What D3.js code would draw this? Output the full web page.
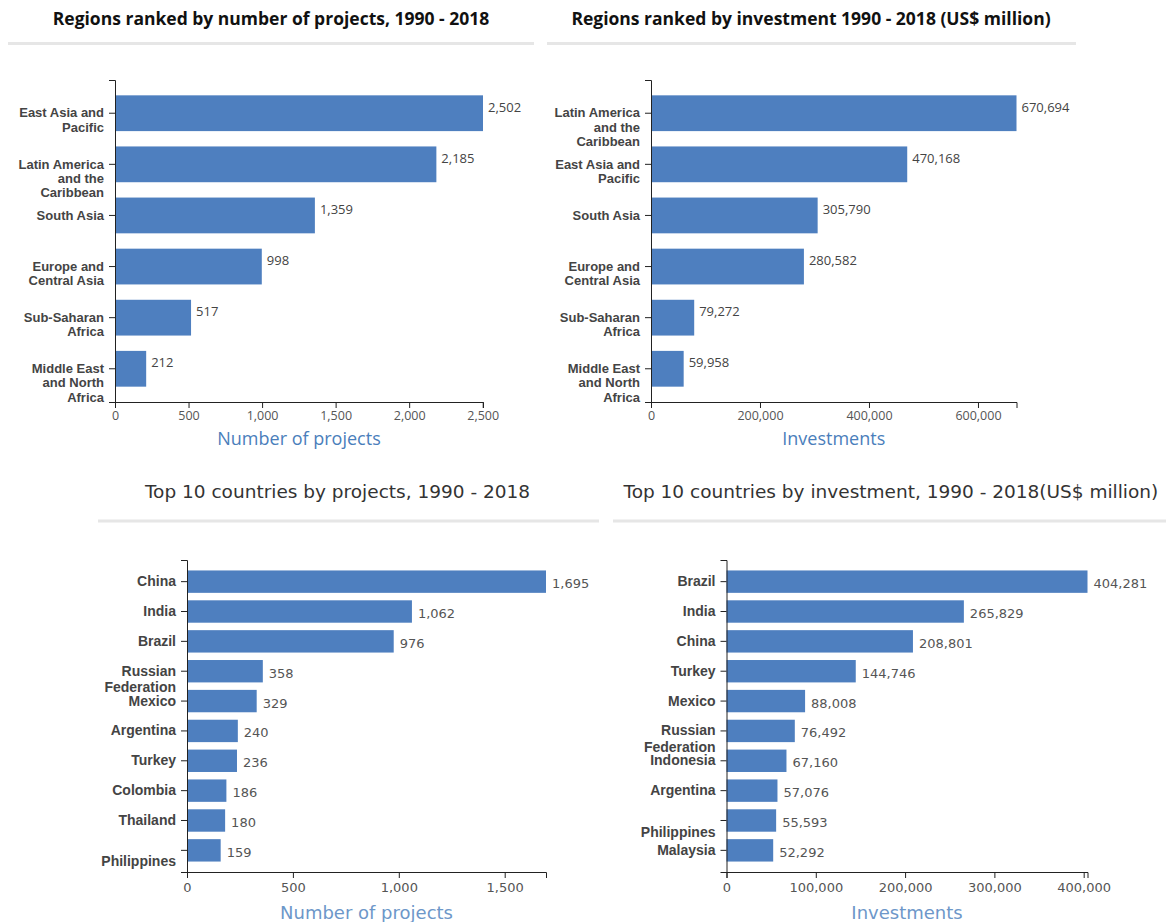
<!DOCTYPE html>
<html>
<head>
<meta charset="utf-8">
<script src="https://cdn.jsdelivr.net/npm/d3@7"></script>
<style>
  body { margin: 0; background: #fff; }
  svg { display: block; }
</style>
</head>
<body>
<svg width="1166" height="922"></svg>
<script>
// data
var regionNamesByProjects = ["East Asia and Pacific", "Latin America and the Caribbean", "South Asia",
    "Europe and Central Asia", "Sub-Saharan Africa", "Middle East and North Africa"];
var regionProjects = [2502, 2185, 1359, 998, 517, 212];

var regionNamesByInvestment = ["Latin America and the Caribbean", "East Asia and Pacific", "South Asia",
    "Europe and Central Asia", "Sub-Saharan Africa", "Middle East and North Africa"];
var regionInvestment = [670694, 470168, 305790, 280582, 79272, 59958];

var countryNamesByProjects = ["China", "India", "Brazil", "Russian Federation", "Mexico",
    "Argentina", "Turkey", "Colombia", "Thailand", "Philippines"];
var countryProjects = [1695, 1062, 976, 358, 329, 240, 236, 186, 180, 159];

var countryNamesByInvestment = ["Brazil", "India", "China", "Turkey", "Mexico",
    "Russian Federation", "Indonesia", "Argentina", "Philippines", "Malaysia"];
var countryInvestment = [404281, 265829, 208801, 144746, 88008, 76492, 67160, 57076, 55593, 52292];

var svg = d3.select("svg");
var barColor = "#4e7fbf";
var fmt = d3.format(",");

// wraps tick labels on width, "\n" forces an (empty) line
function wrap(texts, width, lineHeight) {
    texts.each(function() {
        var text = d3.select(this),
            label = text.text(),
            x = text.attr("x") || 0,
            first = true;
        text.text(null);
        label.split("\n").forEach(function(par) {
            var words = par.split(/\s+/).filter(function(w) { return w.length; }),
                line = [],
                tspan = text.append("tspan").attr("x", x).attr("dy", (first ? 0.32 : lineHeight) + "em");
            first = false;
            words.forEach(function(word) {
                line.push(word);
                tspan.text(line.join(" "));
                if (tspan.node().getComputedTextLength() > width && line.length > 1) {
                    line.pop();
                    tspan.text(line.join(" "));
                    line = [word];
                    tspan = text.append("tspan").attr("x", x).attr("dy", lineHeight + "em").text(word);
                }
            });
        });
    });
}

function drawChart(o) {
    var data = o.names.map(function(n, i) { return {name: n, value: o.values[i]}; });

    var x = d3.scaleLinear()
        .domain([0, d3.max(o.values)])
        .range([o.x0, o.x1]);

    var y = d3.scaleBand()
        .domain(o.names)
        .range([o.y0, o.y1])
        .paddingInner(o.padIn)
        .paddingOuter(o.padOut);

    // title + grey rule under it
    svg.append("text")
        .attr("x", o.titleX)
        .attr("y", o.titleY)
        .attr("text-anchor", o.titleAnchor)
        .style("font-family", o.titleFont)
        .style("font-size", o.titleSize)
        .style("font-weight", o.titleWeight)
        .style("fill", o.titleColor)
        .text(o.title);

    svg.append("line")
        .attr("x1", o.ruleX0).attr("x2", o.ruleX1)
        .attr("y1", o.ruleY).attr("y2", o.ruleY)
        .style("stroke", "#e6e6e6")
        .style("stroke-width", 3);

    var g = svg.append("g");

    g.selectAll(".bar")
        .data(data)
        .enter().append("rect")
        .attr("class", "bar")
        .attr("x", x(0))
        .attr("y", function(d) { return y(d.name); })
        .attr("width", function(d) { return x(d.value) - x(0); })
        .attr("height", y.bandwidth())
        .attr("fill", barColor);

    g.selectAll(".val")
        .data(data)
        .enter().append("text")
        .attr("class", "val")
        .attr("x", function(d) { return x(d.value) + o.valPad; })
        .attr("y", function(d) { return y(d.name) + y.bandwidth() / 2; })
        .attr("dy", o.valDy)
        .style("font-family", o.valFont)
        .style("font-size", o.valSize)
        .style("fill", o.valColor)
        .text(function(d) { return fmt(d.value); });

    // x axis
    var xa = g.append("g")
        .attr("transform", "translate(0," + o.y1 + ")")
        .call(d3.axisBottom(x).ticks(o.ticks).tickFormat(fmt));
    xa.selectAll("text")
        .attr("y", o.xTickY)
        .style("font-family", o.valFont)
        .style("font-size", o.tickSize)
        .style("fill", "#555");

    // y axis
    var ya = g.append("g")
        .attr("transform", "translate(" + o.x0 + ",0)")
        .call(d3.axisLeft(y).tickPadding(5).tickFormat(function(d) {
            // Philippines label sits one line below its tick in the original
            return d === "Philippines" ? "\nPhilippines" : d;
        }));
    ya.selectAll("text")
        .style("font-family", "'Liberation Sans', Arial, sans-serif")
        .style("font-size", o.labelSize)
        .style("font-weight", "bold")
        .style("fill", "#444")
        .call(wrap, 92, o.lineHeight);

    g.selectAll(".domain, .tick line").style("stroke", "#222");

    svg.append("text")
        .attr("x", (o.x0 + x(d3.max(o.values))) / 2)
        .attr("y", o.axisTitleY)
        .attr("text-anchor", "middle")
        .style("font-family", o.axisTitleFont)
        .style("font-size", o.axisTitleSize)
        .style("fill", o.axisTitleColor)
        .text(o.axisTitle);
}

var topStyle = {
    y0: 80, y1: 402, padIn: 0.3, padOut: 0.3,
    titleY: 25, titleAnchor: "middle", titleFont: "'Open Sans', sans-serif", titleSize: "17.5px",
    titleWeight: 700, titleColor: "#111", ruleY: 43.5,
    valPad: 5, valDy: "-0.1em", valFont: "'Open Sans', sans-serif", valSize: "13px", valColor: "#444",
    tickSize: "12.5px", xTickY: 9, labelSize: "13px", lineHeight: 1.1,
    axisTitleY: 445, axisTitleFont: "'Open Sans', sans-serif", axisTitleSize: "18px", axisTitleColor: "#4a7ebb"
};
var bottomStyle = {
    y0: 560, y1: 872, padIn: 0.25, padOut: 0.35,
    titleY: 498, titleFont: "'DejaVu Sans', sans-serif", titleSize: "18.5px",
    titleWeight: 400, titleColor: "#333", ruleY: 521,
    valPad: 6, valDy: "0.5em", valFont: "'DejaVu Sans', sans-serif", valSize: "13px", valColor: "#555",
    tickSize: "13px", xTickY: 11, labelSize: "14px", lineHeight: 1.15,
    axisTitleY: 919, axisTitleFont: "'DejaVu Sans', sans-serif", axisTitleSize: "18px", axisTitleColor: "#6d97c9"
};

drawChart(Object.assign({}, topStyle, {
    names: regionNamesByProjects, values: regionProjects, ticks: 5,
    x0: 115, x1: 483,
    title: "Regions ranked by number of projects, 1990 - 2018", titleX: 271,
    ruleX0: 8, ruleX1: 534, axisTitle: "Number of projects"
}));

drawChart(Object.assign({}, topStyle, {
    names: regionNamesByInvestment, values: regionInvestment, ticks: 4,
    x0: 651, x1: 1016.5,
    title: "Regions ranked by investment 1990 - 2018 (US$ million)", titleX: 811,
    ruleX0: 547, ruleX1: 1076, axisTitle: "Investments"
}));

drawChart(Object.assign({}, bottomStyle, {
    names: countryNamesByProjects, values: countryProjects, ticks: 4,
    x0: 187, x1: 546,
    title: "Top 10 countries by projects, 1990 - 2018", titleX: 337.5, titleAnchor: "middle",
    ruleX0: 98, ruleX1: 599, axisTitle: "Number of projects"
}));

drawChart(Object.assign({}, bottomStyle, {
    names: countryNamesByInvestment, values: countryInvestment, ticks: 5,
    x0: 726.5, x1: 1087.5,
    title: "Top 10 countries by investment, 1990 - 2018(US$ million)", titleX: 623.5, titleAnchor: "start",
    ruleX0: 613, ruleX1: 1166, axisTitle: "Investments"
}));
</script>
</body>
</html>
